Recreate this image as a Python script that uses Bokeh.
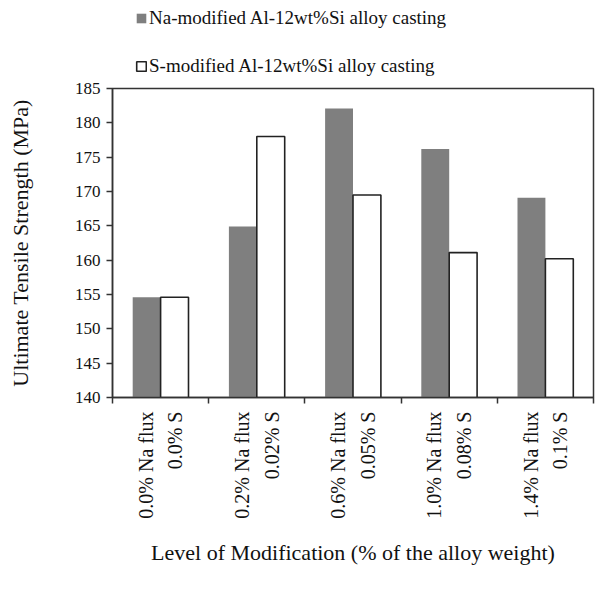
import math
from bokeh.plotting import figure
from bokeh.layouts import column
from bokeh.models import FixedTicker, Legend, LegendItem, Range1d, ColumnDataSource
from bokeh.embed import file_html
from bokeh.resources import INLINE

# ---- data ----
categories = ["0.0% Na flux\n0.0% S", "0.2% Na flux\n0.02% S", "0.6% Na flux\n0.05% S",
              "1.0% Na flux\n0.08% S", "1.4% Na flux\n0.1% S"]
na_uts = [154.6, 164.9, 182.1, 176.2, 169.1]
s_uts = [154.6, 178.0, 169.5, 161.1, 160.2]
y_ticks = [140, 145, 150, 155, 160, 165, 170, 175, 180, 185]
na_label = "Na-modified Al-12wt%Si alloy casting"
s_label = "S-modified Al-12wt%Si alloy casting"

FONT = "Liberation Serif"
BAR_W = 0.29
NA_FILL = "#7f7f7f"
S_LINE = "#222222"
W = 597
TOP_H = 77
MAIN_H = 589 - TOP_H
LEFT, RIGHT, TOP, BOTTOM = 112, 4, 11, 192

centers = [i + 0.5 for i in range(len(categories))]
na_src = ColumnDataSource(dict(x=[c - BAR_W / 2 for c in centers], top=na_uts))
s_src = ColumnDataSource(dict(x=[c + BAR_W / 2 for c in centers], top=s_uts))

p = figure(width=W, height=MAIN_H, x_range=Range1d(0, len(categories)),
           y_range=Range1d(y_ticks[0], y_ticks[-1]),
           output_backend="svg", toolbar_location=None,
           min_border_left=LEFT, min_border_right=RIGHT, min_border_top=TOP,
           min_border_bottom=BOTTOM)

na_style = dict(fill_color=NA_FILL, line_color=None)
s_style = dict(fill_color="white", line_color=S_LINE, line_width=1.6)
r_na = p.vbar(x="x", top="top", bottom=y_ticks[0], width=BAR_W, source=na_src, **na_style)
r_s = p.vbar(x="x", top="top", bottom=y_ticks[0], width=BAR_W, source=s_src, **s_style)

p.xgrid.visible = False
p.ygrid.visible = False
p.outline_line_color = "#333333"
p.outline_line_width = 1.5
p.background_fill_color = "white"
p.border_fill_color = "white"

# x axis
xa = p.xaxis[0]
xa.ticker = FixedTicker(ticks=centers, minor_ticks=list(range(len(categories) + 1)))
xa.major_label_overrides = {c: lab for c, lab in zip(centers, categories)}
xa.major_label_orientation = math.pi / 2
xa.major_tick_out = 0
xa.major_tick_in = 0
xa.minor_tick_out = 6
xa.minor_tick_in = 0
xa.minor_tick_line_color = "#333333"
xa.minor_tick_line_width = 1.5
xa.axis_line_color = "#333333"
xa.axis_line_width = 1.5
xa.major_label_standoff = 8
xa.major_label_text_font = FONT
xa.major_label_text_font_size = "20px"
xa.major_label_text_color = "#111111"
xa.major_label_text_line_height = 1.35
xa.axis_label = "Level of Modification (% of the alloy weight)"
xa.axis_label_text_font = FONT
xa.axis_label_text_font_size = "22px"
xa.axis_label_text_font_style = "normal"
xa.axis_label_text_color = "#111111"
xa.axis_label_standoff = 18

# y axis
ya = p.yaxis[0]
ya.ticker = FixedTicker(ticks=y_ticks, minor_ticks=[])
ya.major_tick_out = 6
ya.major_tick_in = 0
ya.major_tick_line_color = "#333333"
ya.major_tick_line_width = 1.5
ya.minor_tick_out = 0
ya.minor_tick_in = 0
ya.axis_line_color = "#333333"
ya.axis_line_width = 1.5
ya.major_label_standoff = 6
ya.major_label_text_font = FONT
ya.major_label_text_font_size = "17px"
ya.major_label_text_color = "#111111"
ya.axis_label = "Ultimate Tensile Strength (MPa)"
ya.axis_label_text_font = FONT
ya.axis_label_text_font_size = "22px"
ya.axis_label_text_font_style = "normal"
ya.axis_label_text_color = "#111111"
ya.axis_label_standoff = 39

# ---- legend strip above the chart (hidden copies of the series supply the swatches) ----
pl = figure(width=W, height=TOP_H, x_range=Range1d(0, len(categories)), y_range=Range1d(0, 1),
            output_backend="svg", toolbar_location=None,
            x_axis_location=None, y_axis_location=None,
            min_border_left=0, min_border_right=0, min_border_top=0, min_border_bottom=0)
pl.outline_line_color = None
pl.xgrid.visible = False
pl.ygrid.visible = False
pl.border_fill_color = "white"
l_na = pl.vbar(x="x", top="top", bottom=y_ticks[0], width=BAR_W, source=na_src,
               visible=False, **na_style)
l_s = pl.vbar(x="x", top="top", bottom=y_ticks[0], width=BAR_W, source=s_src,
              visible=False, **s_style)

legend = Legend(items=[LegendItem(label=na_label, renderers=[l_na]),
                       LegendItem(label=s_label, renderers=[l_s])],
                orientation="vertical", location=(23, 0),
                label_text_font=FONT, label_text_font_size="19px", label_text_color="#111111",
                glyph_width=12, glyph_height=12, label_standoff=2, spacing=26,
                label_height=22, padding=0, margin=0,
                border_line_color=None, background_fill_alpha=0)
pl.add_layout(legend)

layout = column(pl, p, spacing=0)
open("out.html", "w").write(file_html(layout, INLINE))
